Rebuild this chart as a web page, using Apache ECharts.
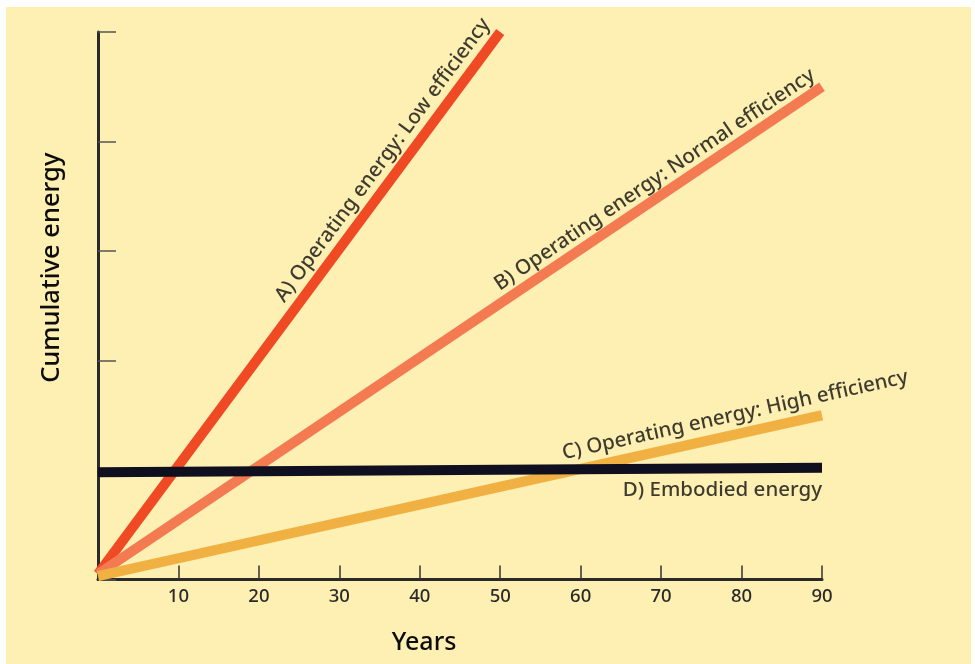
<!DOCTYPE html>
<html><head><meta charset="utf-8">
<script src="https://cdn.jsdelivr.net/npm/echarts@6/dist/echarts.min.js"></script>
<style>html,body{margin:0;padding:0;background:#fff}#c{width:975px;height:664px}</style>
</head><body><div id="c"></div>
<script>
// Data (years, cumulative energy in relative units)
const seriesNames = ['A) Operating energy: Low efficiency','B) Operating energy: Normal efficiency','C) Operating energy: High efficiency','D) Embodied energy'];
const lineA = [[0,0.05],[50,5.0]];
const lineB = [[0,0.05],[90,4.5]];
const lineC = [[0,0.03],[90,1.5]];
const lineD = [[0,0.98],[90,1.02]];
const xTicks = [10,20,30,40,50,60,70,80,90];
// label anchor points (data coords) and angles
const labelPos = [[35.4,3.83],[69.2,3.65],[79.2,1.50],[90,0.82]];
const labelAngle = [53.5,33.9,12.5,0];

const colors = ['#EF4A24','#F47B51','#F1B142','#100F20'];
const font = 'Noto Sans';
const chart = echarts.init(document.getElementById('c'));
const lines = [lineA,lineB,lineC,lineD].map((d,i)=>({
  type:'line', name:seriesNames[i], data:d, symbol:'none', clip:false, z:2+i,
  lineStyle:{color:colors[i], width:10, cap:'butt'}, silent:true
}));
const labelData = labelPos.map((p,i)=>({
  value:p,
  label:{show:true, formatter:seriesNames[i], rotate:labelAngle[i],
    align: i===3?'right':'center', verticalAlign:'middle', position:'inside',
    color:'#0c0c0c', fontSize:20.5, fontWeight:500, fontFamily:font}
}));
chart.setOption({
  backgroundColor:'#ffffff',
  animation:false,
  graphic:[{type:'rect', shape:{x:6,y:7,width:965,height:657}, style:{fill:'#FEEFB3'}, z:-10, silent:true}],
  grid:{left:98, right:153, top:32, bottom:84.5, outerBoundsMode:'none', containLabel:false},
  xAxis:{type:'value', min:0, max:90, interval:10,
    name:'Years', nameLocation:'middle', nameGap:51,
    nameTextStyle:{fontSize:25, fontWeight:500, color:'#0c0c0c', fontFamily:font, padding:[0,72,0,0]},
    axisLine:{lineStyle:{color:'#2a2a2a', width:3}},
    axisTick:{inside:true, length:14, lineStyle:{color:'#333', width:1.5}},
    axisLabel:{fontSize:18.5, fontWeight:500, color:'#2a2a2a', fontFamily:font, margin:8,
      formatter:v=> xTicks.indexOf(v)>=0 ? String(v) : ''},
    splitLine:{show:false}},
  yAxis:{type:'value', min:0, max:5, interval:1,
    name:'Cumulative energy', nameLocation:'middle', nameGap:33,
    nameTextStyle:{fontSize:25.5, fontWeight:500, color:'#0c0c0c', fontFamily:font, padding:[0,0,0,76]},
    axisLine:{show:true, lineStyle:{color:'#2a2a2a', width:3}},
    axisTick:{show:true, inside:true, length:18, lineStyle:{color:'#555', width:1.5}},
    axisLabel:{show:false}, splitLine:{show:false}},
  series:[...lines, {type:'scatter', data:labelData, symbolSize:0, silent:true, z:10}]
});
</script></body></html>
